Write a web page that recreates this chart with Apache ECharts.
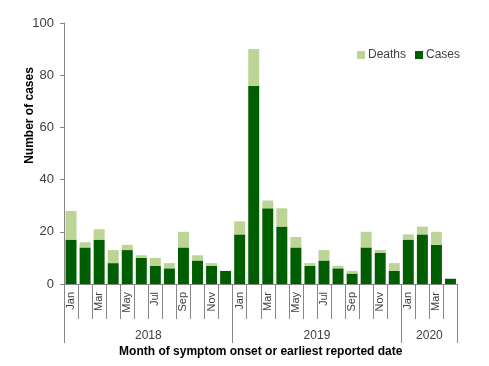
<!DOCTYPE html>
<html><head><meta charset="utf-8">
<script src="https://cdn.jsdelivr.net/npm/echarts@6/dist/echarts.min.js"></script>
<style>html,body{margin:0;padding:0;background:#fff}#c{width:489px;height:366px}</style>
</head><body><div id="c"></div>
<script>
const months = ['Jan','Feb','Mar','Apr','May','Jun','Jul','Aug','Sep','Oct','Nov','Dec',
                'Jan','Feb','Mar','Apr','May','Jun','Jul','Aug','Sep','Oct','Nov','Dec',
                'Jan','Feb','Mar','Apr'];
const years = ['2018','2019','2020'];
const monthsPerYear = [12,12,4];
const cases  = [17,14,17,8,13,10,7,6,14,9,7,5, 19,76,29,22,14,7,9,6,4,14,12,5, 17,19,15,2];
const deaths = [11,2,4,5,2,1,3,2,6,2,1,0, 5,14,3,7,4,1,4,1,1,6,1,3, 2,3,5,0];
const yTicks = [0,20,40,60,80,100];

const yearStart = [];
const yearMid = {};
let acc = 0;
monthsPerYear.forEach((n,i)=>{ yearStart.push(acc); yearMid[acc + n/2] = years[i]; acc += n; });

const grey = '#868686';
const font = 'Liberation Sans';
const chart = echarts.init(document.getElementById('c'));
chart.setOption({
  animation:false,
  textStyle:{fontFamily:font},
  grid:{left:64,right:31.5,top:23,bottom:82,containLabel:false},
  legend:{data:['Deaths','Cases'],left:352,top:44,itemWidth:8,itemHeight:8,itemGap:9,
    icon:'rect',textStyle:{fontFamily:font,fontSize:12,color:'#404040',padding:[0,0,0,-2]}},
  xAxis:[
    {type:'category',data:months,position:'bottom',
     axisLine:{show:true,lineStyle:{color:grey,width:1}},
     axisTick:{show:true,interval:0,length:35,lineStyle:{color:grey}},
     axisLabel:{interval:1,rotate:90,margin:8,fontSize:11,color:'#404040',fontFamily:font}},
    {type:'category',data:months,position:'bottom',
     axisLine:{show:false},
     axisTick:{show:true,length:59,interval:function(i){return yearStart.indexOf(i)>=0;},lineStyle:{color:grey}},
     axisLabel:{show:false}},
    {type:'value',min:0,max:acc,interval:2,position:'bottom',
     axisLine:{show:false},axisTick:{show:false},splitLine:{show:false},
     axisLabel:{margin:46,fontSize:12,color:'#404040',fontFamily:font,
       formatter:function(v){return yearMid[v]||'';}},
     name:'Month of symptom onset or earliest reported date',nameLocation:'middle',nameGap:62,
     nameMoveOverlap:false,
     nameTextStyle:{fontWeight:'bold',fontSize:12,color:'#000',fontFamily:font}}
  ],
  yAxis:{type:'value',min:yTicks[0],max:yTicks[yTicks.length-1],interval:20,
    axisLine:{show:true,lineStyle:{color:grey}},
    axisTick:{show:true,length:4,lineStyle:{color:grey}},
    splitLine:{show:false},
    axisLabel:{fontSize:13,color:'#404040',margin:10,fontFamily:font},
    name:'Number of cases',nameLocation:'middle',nameGap:28,nameMoveOverlap:false,
    nameTextStyle:{fontWeight:'bold',fontSize:12,color:'#000',fontFamily:font,padding:[0,0,0,76]}},
  series:[
    {name:'Cases',type:'bar',stack:'a',data:cases,barCategoryGap:'22%',xAxisIndex:0,
     itemStyle:{color:'#005E00'}},
    {name:'Deaths',type:'bar',stack:'a',data:deaths,barCategoryGap:'22%',xAxisIndex:0,
     itemStyle:{color:'#BCD597'}}
  ]
});
</script></body></html>
